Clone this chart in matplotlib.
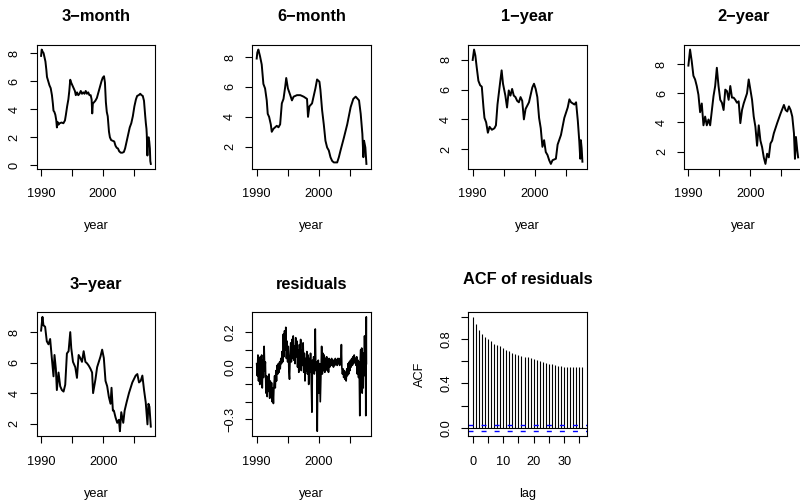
import matplotlib.pyplot as plt

plt.rcParams["font.family"] = ["Liberation Sans", "DejaVu Sans"]
plt.rcParams["axes.unicode_minus"] = True

# yields (percent)
t_3m = [1990.00, 1990.10, 1990.25, 1990.40, 1990.55, 1990.70, 1990.85, 1990.95,
        1991.15, 1991.35, 1991.55, 1991.75, 1991.90, 1992.00, 1992.15, 1992.30,
        1992.45, 1992.55, 1992.65, 1992.80, 1993.00, 1993.30, 1993.60, 1993.85,
        1994.00, 1994.20, 1994.40, 1994.55, 1994.70, 1994.85, 1995.05, 1995.25,
        1995.45, 1995.60, 1995.80, 1996.00, 1996.20, 1996.40, 1996.60, 1996.80,
        1997.00, 1997.20, 1997.40, 1997.60, 1997.80, 1998.00, 1998.15, 1998.25,
        1998.35, 1998.55, 1998.75, 1999.00, 1999.25, 1999.50, 1999.75, 1999.95,
        2000.15, 2000.30, 2000.45, 2000.60, 2000.75, 2000.95, 2001.10, 2001.30,
        2001.55, 2001.80, 2002.00, 2002.20, 2002.40, 2002.60, 2002.85, 2003.10,
        2003.35, 2003.55, 2003.80, 2004.05, 2004.30, 2004.55, 2004.80, 2005.05,
        2005.30, 2005.50, 2005.75, 2006.00, 2006.20, 2006.40, 2006.60, 2006.80,
        2006.90, 2007.00, 2007.05, 2007.15, 2007.22, 2007.35, 2007.45, 2007.55,
        2007.62, 2007.70]
r_3m = [7.8, 8.25, 8.1, 8.0, 7.7, 7.4, 6.8, 6.3,
        6.0, 5.7, 5.5, 5.0, 4.4, 3.9, 3.8, 3.6,
        3.2, 2.7, 3.1, 2.9, 3.0, 3.05, 3.0, 3.2,
        3.6, 4.2, 4.7, 5.3, 6.1, 5.9, 5.7, 5.5,
        5.3, 5.0, 5.2, 5.0, 5.1, 5.3, 5.1, 5.2,
        5.1, 5.3, 5.1, 5.2, 5.0, 5.0, 4.7, 3.7,
        4.4, 4.5, 4.6, 4.8, 5.2, 5.6, 6.0, 6.25,
        6.35, 5.9, 4.5, 3.8, 3.5, 2.4, 2.0, 1.8,
        1.75, 1.7, 1.4, 1.25, 1.2, 1.0, 0.9, 0.9,
        0.95, 1.2, 1.7, 2.2, 2.7, 3.0, 3.5, 4.2,
        4.7, 4.95, 5.0, 5.1, 5.0, 4.95, 4.6, 3.5,
        3.0, 2.6, 2.2, 0.7, 1.9, 2.0, 1.7, 1.2,
        0.3, 0.1]

t_6m = [1990.00, 1990.10, 1990.27, 1990.54, 1990.81, 1991.08, 1991.35, 1991.62,
        1991.78, 1992.00, 1992.27, 1992.43, 1992.70, 1993.24, 1993.51, 1993.78,
        1994.05, 1994.32, 1994.59, 1994.76, 1995.03, 1995.41, 1995.68, 1995.95,
        1996.49, 1997.03, 1997.57, 1998.11, 1998.27, 1998.49, 1998.92, 1999.46,
        1999.73, 2000.11, 2000.27, 2000.54, 2000.81, 2001.08, 2001.35, 2001.62,
        2001.89, 2002.16, 2002.43, 2002.97, 2003.24, 2003.51, 2004.05, 2004.59,
        2005.14, 2005.57, 2005.95, 2006.49, 2006.76, 2007.03, 2007.19, 2007.30,
        2007.51, 2007.68]
r_6m = [7.9, 8.3, 8.5, 8.05, 7.5, 6.2, 5.9, 5.1,
        4.2, 4.0, 3.5, 3.0, 3.2, 3.4, 3.3, 3.5,
        4.9, 5.2, 6.0, 6.6, 5.9, 5.45, 5.1, 5.35,
        5.45, 5.45, 5.35, 5.2, 4.0, 4.7, 4.9, 5.9,
        6.5, 6.35, 5.8, 4.45, 3.5, 2.4, 1.95, 1.75,
        1.3, 1.05, 0.95, 0.95, 1.3, 1.75, 2.6, 3.5,
        4.65, 5.2, 5.35, 5.1, 4.2, 2.85, 1.3, 2.4,
        1.95, 0.85]

t_1y = [1990.00, 1990.22, 1990.43, 1990.65, 1990.92, 1991.20, 1991.47, 1991.74,
        1991.90, 1992.17, 1992.45, 1992.72, 1993.10, 1993.50, 1993.75, 1994.00,
        1994.20, 1994.46, 1994.67, 1994.89, 1995.27, 1995.54, 1995.82, 1996.09,
        1996.36, 1996.63, 1996.90, 1997.17, 1997.45, 1997.72, 1997.99, 1998.26,
        1998.53, 1999.08, 1999.62, 1999.89, 2000.16, 2000.43, 2000.71, 2000.98,
        2001.25, 2001.52, 2001.79, 2002.07, 2002.34, 2002.61, 2002.88, 2003.42,
        2003.70, 2004.24, 2004.78, 2005.33, 2005.60, 2005.87, 2006.41, 2006.68,
        2006.96, 2007.20, 2007.35, 2007.45, 2007.58, 2007.70]
r_1y = [8.0, 8.7, 8.3, 7.5, 6.6, 6.3, 6.2, 4.8,
        4.1, 3.8, 3.1, 3.5, 3.3, 3.4, 3.6, 5.0,
        5.7, 6.6, 7.3, 6.4, 5.6, 4.8, 5.95, 5.6,
        6.05, 5.6, 5.5, 5.25, 5.15, 5.5, 5.25, 4.0,
        4.7, 5.15, 6.15, 6.4, 6.05, 5.5, 4.1, 3.4,
        2.15, 2.6, 1.8, 1.6, 1.25, 1.0, 1.25, 1.35,
        2.3, 2.95, 4.1, 4.8, 5.35, 5.15, 5.0, 5.15,
        3.9, 2.5, 1.35, 2.6, 2.05, 1.15]

t_2y = [1990.00, 1990.27, 1990.54, 1990.81, 1991.08, 1991.35, 1991.62, 1991.89,
        1992.16, 1992.43, 1992.70, 1992.97, 1993.24, 1993.51, 1994.05, 1994.32,
        1994.59, 1994.86, 1995.14, 1995.41, 1995.68, 1995.95, 1996.22, 1996.49,
        1996.76, 1997.03, 1997.30, 1997.57, 1997.84, 1998.11, 1998.38, 1998.65,
        1998.92, 1999.46, 1999.73, 2000.00, 2000.27, 2000.54, 2000.81, 2001.08,
        2001.35, 2001.62, 2001.89, 2002.16, 2002.43, 2002.70, 2002.97, 2003.24,
        2003.51, 2003.78, 2004.05, 2004.32, 2004.86, 2005.41, 2005.68, 2005.95,
        2006.22, 2006.49, 2006.76, 2007.03, 2007.19, 2007.35, 2007.57, 2007.70]
r_2y = [7.9, 9.0, 8.2, 7.2, 6.95, 6.5, 5.9, 4.7,
        5.3, 3.8, 4.4, 3.8, 4.2, 3.8, 5.8, 6.5,
        7.75, 6.5, 5.55, 5.35, 4.85, 6.25, 6.15, 5.55,
        6.5, 5.7, 5.7, 5.55, 5.35, 5.45, 3.95, 4.85,
        5.3, 6.0, 6.95, 6.25, 5.55, 4.4, 3.7, 2.4,
        3.8, 2.75, 2.3, 1.6, 1.15, 1.85, 1.6, 2.55,
        2.75, 3.25, 3.6, 3.95, 4.6, 5.2, 4.85, 4.75,
        5.1, 4.85, 4.4, 3.25, 1.5, 3.0, 2.05, 1.6]

t_3y = [1990.00, 1990.22, 1990.38, 1990.65, 1990.92, 1991.19, 1991.46, 1991.73,
        1992.00, 1992.16, 1992.38, 1992.54, 1992.81, 1993.08, 1993.35, 1993.62,
        1993.89, 1994.16, 1994.43, 1994.70, 1994.86, 1995.14, 1995.51, 1995.78,
        1996.05, 1996.32, 1996.59, 1996.86, 1997.14, 1997.41, 1997.68, 1997.95,
        1998.22, 1998.38, 1998.76, 1999.03, 1999.57, 1999.84, 2000.11, 2000.38,
        2000.65, 2000.92, 2001.19, 2001.35, 2001.57, 2001.73, 2002.00, 2002.27,
        2002.54, 2002.70, 2002.92, 2003.24, 2003.46, 2003.78, 2004.16, 2004.70,
        2005.24, 2005.51, 2005.78, 2006.05, 2006.32, 2006.59, 2006.86, 2007.14,
        2007.30, 2007.46, 2007.68]
r_3y = [8.1, 9.0, 8.45, 8.35, 7.4, 7.2, 7.55, 6.3,
        5.1, 6.5, 5.6, 4.2, 5.35, 4.45, 4.2, 4.1,
        4.55, 6.6, 6.75, 8.0, 6.95, 6.05, 5.7, 5.0,
        6.5, 6.3, 6.05, 6.75, 6.05, 5.95, 5.8, 5.6,
        5.35, 4.0, 4.9, 5.7, 6.4, 6.85, 6.3, 4.8,
        4.45, 3.75, 3.3, 4.35, 2.85, 2.85, 2.4, 2.05,
        2.25, 1.5, 2.75, 2.05, 2.85, 3.4, 4.0, 4.7,
        5.15, 5.25, 4.7, 4.8, 5.15, 4.2, 3.4, 1.95,
        3.3, 3.1, 1.8]

# regression residuals
t_res = [1990.00, 1990.10, 1990.20, 1990.30, 1990.40, 1990.50, 1990.60, 1990.70, 1990.80, 1990.90,
         1991.00, 1991.10, 1991.20, 1991.30, 1991.40, 1991.50, 1991.60, 1991.70, 1991.80, 1991.90,
         1992.00, 1992.10, 1992.20, 1992.30, 1992.40, 1992.50, 1992.60, 1992.70, 1992.80, 1992.90,
         1993.00, 1993.10, 1993.20, 1993.30, 1993.40, 1993.50, 1993.60, 1993.70, 1993.80, 1993.90,
         1994.00, 1994.10, 1994.20, 1994.30, 1994.40, 1994.50, 1994.60, 1994.70, 1994.80, 1994.90,
         1995.00, 1995.10, 1995.20, 1995.30, 1995.40, 1995.50, 1995.60, 1995.70, 1995.80, 1995.90,
         1996.00, 1996.10, 1996.20, 1996.30, 1996.40, 1996.50, 1996.60, 1996.70, 1996.80, 1996.90,
         1997.00, 1997.10, 1997.20, 1997.30, 1997.40, 1997.50, 1997.60, 1997.70, 1997.80, 1997.90,
         1998.00, 1998.10, 1998.20, 1998.30, 1998.40, 1998.50, 1998.60, 1998.70, 1998.80, 1998.92,
         1999.00, 1999.10, 1999.20, 1999.30, 1999.40, 1999.46, 1999.55, 1999.65, 1999.72, 1999.78,
         1999.85, 1999.95, 2000.05, 2000.15, 2000.27, 2000.38, 2000.49, 2000.60, 2000.70, 2000.80,
         2000.90, 2001.00, 2001.10, 2001.20, 2001.30, 2001.40, 2001.50, 2001.60, 2001.70, 2001.80,
         2001.90, 2002.00, 2002.10, 2002.20, 2002.30, 2002.40, 2002.50, 2002.60, 2002.70, 2002.80,
         2002.90, 2003.00, 2003.10, 2003.20, 2003.30, 2003.40, 2003.50, 2003.60, 2003.68, 2003.75,
         2003.85, 2003.95, 2004.05, 2004.15, 2004.25, 2004.35, 2004.45, 2004.55, 2004.65, 2004.75,
         2004.85, 2004.95, 2005.05, 2005.15, 2005.25, 2005.35, 2005.45, 2005.55, 2005.65, 2005.75,
         2005.85, 2005.95, 2006.05, 2006.15, 2006.25, 2006.35, 2006.45, 2006.55, 2006.65, 2006.72,
         2006.80, 2006.88, 2006.96, 2007.04, 2007.12, 2007.20, 2007.28, 2007.36, 2007.42, 2007.50,
         2007.58, 2007.62, 2007.66, 2007.70, 2007.72]
resid = [0.02, -0.05, 0.07, -0.08, 0.05, -0.10, 0.06, -0.04, 0.07, -0.12,
         0.04, -0.06, 0.12, -0.02, 0.03, -0.15, -0.05, -0.17, -0.06, -0.14,
         -0.04, -0.18, -0.08, -0.17, -0.09, -0.20, -0.12, -0.21, -0.10, -0.05,
         -0.12, -0.02, -0.08, 0.01, -0.04, 0.02, -0.03, 0.03, -0.01, 0.05,
         0.02, 0.09, 0.03, 0.19, 0.06, 0.21, 0.10, 0.23, 0.05, 0.15,
         0.03, 0.12, -0.02, -0.07, 0.06, 0.14, 0.03, 0.16, 0.05, 0.18,
         0.04, 0.12, 0.02, 0.17, 0.06, 0.15, 0.00, 0.10, -0.03, 0.13,
         0.02, 0.16, -0.02, 0.10, 0.01, 0.14, -0.03, 0.08, -0.08, 0.05,
         -0.02, 0.09, -0.04, 0.07, -0.10, 0.05, -0.03, 0.08, -0.05, -0.26,
         0.04, -0.03, 0.06, -0.04, 0.05, 0.22, -0.02, 0.03, -0.06, -0.37,
         -0.10, 0.04, -0.15, 0.02, -0.20, -0.05, 0.12, -0.04, 0.08, -0.02,
         0.07, -0.03, 0.05, 0.00, 0.06, -0.02, 0.04, -0.03, 0.05, 0.00,
         0.04, 0.01, 0.05, 0.01, 0.04, 0.00, 0.04, 0.01, 0.05, 0.02,
         0.04, 0.01, 0.05, 0.02, 0.05, 0.01, 0.04, 0.02, 0.13, 0.00,
         -0.04, -0.01, -0.06, -0.02, -0.07, -0.03, -0.08, -0.01, -0.05, 0.02,
         -0.04, 0.03, -0.02, 0.04, 0.00, 0.05, 0.01, 0.06, 0.02, 0.07,
         0.03, 0.05, 0.01, 0.06, -0.04, 0.04, -0.06, 0.03, -0.28, 0.04,
         0.10, -0.05, 0.11, -0.15, 0.05, -0.12, 0.08, -0.03, 0.18, -0.05,
         0.10, -0.28, 0.05, 0.29, 0.02]

acf_lag = list(range(37))
acf_val = [1.0, 0.933, 0.883, 0.85, 0.82, 0.80, 0.78, 0.76, 0.745, 0.735,
           0.723, 0.705, 0.69, 0.675, 0.667, 0.658, 0.649, 0.643, 0.637, 0.628,
           0.622, 0.613, 0.604, 0.596, 0.587, 0.578, 0.572, 0.566, 0.56, 0.554,
           0.551, 0.548, 0.545, 0.545, 0.545, 0.545, 0.545]
acf_clim = 0.03

year_ticks = [1990, 1995, 2000, 2005]
year_labels = ["1990", "", "2000", ""]

W, H = 800, 503
TICK_FS = 9.2
TITLE_FS = 11.8


def add_panel(fig, left, top, width=118.5, height=123.5):
    # pixel box (top-left origin) -> figure fraction
    return fig.add_axes([left / W, 1 - (top + height) / H, width / W, height / H])


def style(ax, title, xlabel, title_pad=17):
    for s in ax.spines.values():
        s.set_linewidth(0.8)
        s.set_color("black")
    ax.tick_params(axis="both", direction="out", length=4.8, width=0.8,
                   color="black", labelsize=TICK_FS)
    ax.tick_params(axis="x", pad=9.5)
    ax.tick_params(axis="y", pad=6.8)
    ax.set_title(title, fontsize=TITLE_FS, fontweight="bold", pad=title_pad)
    ax.set_xlabel(xlabel, fontsize=TICK_FS, labelpad=14.5)
    ax.margins(x=0.04, y=0.04)


def ts_panel(fig, left, top, t, y, title, yticks, ylabels=None, lw=1.4):
    ax = add_panel(fig, left, top)
    ax.plot(t, y, color="black", lw=lw)
    style(ax, title, "year")
    ax.set_xticks(year_ticks, year_labels)
    if ylabels is None:
        ylabels = [str(v) for v in yticks]
    ax.set_yticks(yticks, ylabels, rotation=90, va="center")
    return ax


def main():
    fig = plt.figure(figsize=(W / 100, H / 100), dpi=100)

    cols = [36.7, 252.3, 468.3, 684.0]
    rows = [45.0, 312.3]

    ts_panel(fig, cols[0], rows[0], t_3m, r_3m, "3\u2212month", [0, 2, 4, 6, 8])
    ts_panel(fig, cols[1], rows[0], t_6m, r_6m, "6\u2212month", [2, 4, 6, 8])
    ts_panel(fig, cols[2], rows[0], t_1y, r_1y, "1\u2212year", [2, 4, 6, 8])
    ts_panel(fig, cols[3], rows[0], t_2y, r_2y, "2\u2212year", [2, 4, 6, 8])
    ts_panel(fig, cols[0], rows[1], t_3y, r_3y, "3\u2212year", [2, 4, 6, 8])
    ts_panel(fig, cols[1], rows[1], t_res, resid, "residuals",
             [-0.3, -0.2, -0.1, 0.0, 0.1, 0.2],
             ["\u22120.3", "", "", "0.0", "", "0.2"], lw=1.2)

    # ACF of residuals
    ax = add_panel(fig, cols[2], rows[1])
    ax.vlines(acf_lag, 0, acf_val, color="black", lw=0.8)
    ax.axhline(0, color="black", lw=0.8)
    ax.axhline(acf_clim, color="blue", lw=1.0, ls=(0, (3.6, 5.8)))
    ax.axhline(-acf_clim, color="blue", lw=1.0, ls=(0, (3.6, 5.8)))
    style(ax, "ACF of residuals", "lag", title_pad=20.5)
    ax.set_xticks(range(0, 36, 5), ["0", "", "10", "", "20", "", "30", ""])
    ax.set_yticks([0.0, 0.2, 0.4, 0.6, 0.8, 1.0],
                  ["0.0", "", "0.4", "", "0.8", ""], rotation=90, va="center")
    ax.set_ylabel("ACF", fontsize=TICK_FS, labelpad=10.5)

    fig.savefig("out.png", dpi=100)
    plt.close(fig)


if __name__ == "__main__":
    main()
